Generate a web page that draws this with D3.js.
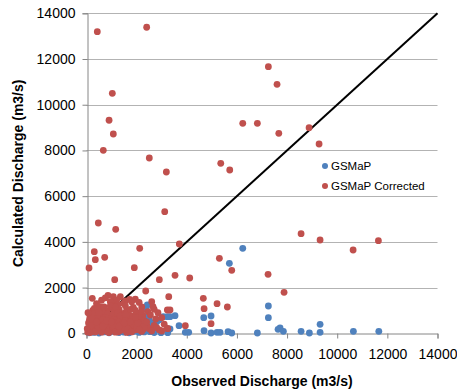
<!DOCTYPE html>
<html>
<head>
<meta charset="utf-8">
<script src="https://cdn.jsdelivr.net/npm/d3@7"></script>
<style>
  html, body { margin: 0; padding: 0; background: #fff; }
  svg { display: block; font-family: "Liberation Sans", Arial, sans-serif; }
</style>
</head>
<body>
<svg id="chart" width="457" height="392"></svg>
<script>
// Axis ticks (m3/s)
const xTicks = [0, 2000, 4000, 6000, 8000, 10000, 12000, 14000];
const yTicks = [0, 2000, 4000, 6000, 8000, 10000, 12000, 14000];

// 1:1 reference line
const identityLine = [[0, 0], [14000, 14000]];

// GSMaP: [observed, calculated]
const gsmap = [
  [100,20],[300,40],[500,10],[700,60],[900,20],[1100,80],[1300,30],[1500,50],[1700,20],
  [1900,90],[2100,40],[2300,60],[2534,70],[2700,30],[2972,26],[3240,26],[3331,190],
  [3691,333],[3942,44],[4077,44],[200,120],[600,180],[1000,150],[1400,250],[1800,300],
  [2000,450],[2200,350],[2426,1238],[2374,1094],[2334,726],[1867,656],[2665,289],
  [2800,508],[2893,582],[3064,726],[3224,726],[3531,770],[3331,726],[1600,400],
  [1200,200],[800,150],[400,100],[2500,600],[2600,450],[2150,550],[1950,500],
  [4676,683],[4968,757],[4688,114],[4968,13],[5207,44],[5327,44],[5646,70],[5793,13],
  [6815,13],[7254,1194],[7254,683],[7640,175],[7721,232],[7853,88],[8559,88],
  [8890,13],[9317,394],[9317,44],[10645,88],[11659,88],[6232,3719],[5698,3062]
];

// GSMaP Corrected: [observed, calculated]
const gsmapCorrected = [
  // scattered high values
  [431,13195],[2400,13390],[1030,10500],[900,9320],[1070,8720],[670,8006],[2505,7670],
  [3185,7057],[5355,7437],[5713,7145],[6232,9188],[6815,9188],[7254,11664],[7600,10894],
  [7670,8750],[8878,8995],[9277,8282],[8559,4358],[9317,4082],[10634,3644],[11643,4051],
  [7242,2581],[7880,1794],[3120,5320],[471,4826],[1165,4550],[3703,3907],[311,3570],
  [351,3220],[726,3325],[2122,3719],[100,2857],[1907,2870],[5300,3281],[5793,2756],
  [1125,2345],[2905,2345],[3531,2537],[4117,2419],[2362,1850],
  [4660,1531],[4690,1076],[5207,1295],[5618,1151],[4968,420],[3942,333],[3240,201],
  // upper edge of the low-flow cluster
  [231,1531],[858,1662],[1070,1601],[1350,1600],[1723,1487],[1947,1490],[2601,1382],
  [3280,1601],[1070,1312],[1468,1312],[600,1450],[1200,1450],[1550,1420],[1800,1380],
  [2100,1350],[950,1380],[400,1300],[750,1550],[1250,1250],
  // middle of the cluster
  [311,1094],[539,1164],[1867,1137],[2202,1151],[2653,1164],[3225,1019],[3331,1019],
  [140,726],[670,875],[1205,726],[1468,875],[2242,770],[2761,625],[3000,683],[800,1000],
  [1000,1100],[1300,1050],[1600,1000],[1700,800],[2000,900],[2450,950],[2100,700],
  [900,800],[400,900],[250,1000],[550,700],[1100,950],[1400,650],[1650,600],[1900,550],
  [2550,800],[2850,900],[2300,550],[120,600],[180,800],[350,750],
  [450,1050],[700,1150],[950,1200],[1150,1150],[1550,1200],[1750,1050],[1950,1000],
  [650,950],[850,850],[1050,800],[1250,900],[1350,750],[1550,800],[1850,750],
  [300,850],[500,900],[750,700],[1000,650],[1200,600],[450,650],[250,550],
  // bottom of the cluster
  [140,289],[2083,464],[2402,350],[3225,219],[50,50],[100,150],[150,300],[200,100],
  [250,400],[300,200],[350,550],[400,100],[450,300],[500,450],[550,150],[600,350],
  [650,600],[700,200],[750,450],[800,100],[850,300],[900,550],[950,250],[1000,400],
  [1050,150],[1100,600],[1150,300],[1200,450],[1250,200],[1300,500],[1350,350],
  [1400,150],[1450,450],[1500,300],[1550,550],[1600,200],[1650,400],[1700,100],
  [1750,300],[1800,450],[1850,200],[1900,350],[1950,150],[2000,250],[2150,300],
  [2250,150],[2500,200],[2700,350],[2900,150],[3100,400],[3000,100],[600,50],
  [900,30],[1250,60],[1600,40],[2200,80],[30,200],[80,450],[60,900],[220,650],
  [150,30],[350,60],[500,250],[700,400],[850,60],[1050,350],[1150,50],[1350,120],
  [1450,250],[1650,180],[1800,60],[2050,450],[2300,300],[2600,100],[2800,250],
  [200,350],[400,500],[650,300],[800,550],[1000,500],[1300,300],[1500,450],[1750,500],
  [2100,150],[2400,500],[1950,700],[2200,950],[2700,1050]
];

const seriesNames = ["GSMaP", "GSMaP Corrected"];
const seriesColors = ["#4F81BD", "#C0504D"];

const svg = d3.select("#chart");
const margin = { left: 86.5, right: 19.5, top: 13.3, bottom: 58.7 };
const W = 457, H = 392;

const x = d3.scaleLinear().domain([0, 14000]).range([margin.left, W - margin.right]);
const y = d3.scaleLinear().domain([0, 14000]).range([H - margin.bottom, margin.top]);

// horizontal gridlines
svg.append("g")
  .selectAll("line")
  .data(yTicks.filter(d => d > 0))
  .join("line")
  .attr("x1", x(0)).attr("x2", x(14000))
  .attr("y1", d => Math.round(y(d)) + 0.5).attr("y2", d => Math.round(y(d)) + 0.5)
  .attr("stroke", "#b3b3b3").attr("stroke-width", 1);

// x axis
const xAxis = svg.append("g")
  .attr("transform", `translate(0,${Math.round(y(0)) + 0.5})`)
  .call(d3.axisBottom(x).tickValues(xTicks).tickSize(5).tickPadding(11).tickFormat(d3.format("d")));
xAxis.select(".domain").attr("stroke", "#868686");
xAxis.selectAll(".tick line").attr("stroke", "#868686");
xAxis.selectAll(".tick text").attr("font-size", 14).attr("fill", "#000")
  .attr("font-family", "Liberation Sans, Arial, sans-serif");

// y axis
const yAxis = svg.append("g")
  .attr("transform", `translate(${Math.round(x(0)) + 0.5},0)`)
  .call(d3.axisLeft(y).tickValues(yTicks).tickSize(5).tickPadding(7).tickFormat(d3.format("d")));
yAxis.select(".domain").attr("stroke", "#868686");
yAxis.selectAll(".tick line").attr("stroke", "#868686");
yAxis.selectAll(".tick text").attr("font-size", 14).attr("fill", "#000")
  .attr("font-family", "Liberation Sans, Arial, sans-serif");

// 1:1 line
svg.append("path")
  .datum(identityLine)
  .attr("d", d3.line().x(d => x(d[0])).y(d => y(d[1])))
  .attr("stroke", "#000").attr("stroke-width", 2).attr("fill", "none");

// markers
const seriesData = [gsmap, gsmapCorrected];
seriesData.forEach((data, i) => {
  svg.append("g")
    .selectAll("circle")
    .data(data)
    .join("circle")
    .attr("cx", d => x(d[0]))
    .attr("cy", d => y(d[1]))
    .attr("r", 3.4)
    .attr("fill", seriesColors[i]);
});

// legend
const legend = svg.append("g");
seriesNames.forEach((name, i) => {
  const ly = 166 + i * 20;
  legend.append("circle").attr("cx", 325).attr("cy", ly).attr("r", 3).attr("fill", seriesColors[i]);
  legend.append("text").attr("x", 331).attr("y", ly).attr("dy", "0.35em")
    .attr("font-size", 11.5).attr("fill", "#000").text(name);
});

// axis titles
svg.append("text")
  .attr("x", (x(0) + x(14000)) / 2).attr("y", 386)
  .attr("text-anchor", "middle").attr("font-weight", "bold").attr("font-size", 14)
  .text("Observed Discharge (m3/s)");

svg.append("text")
  .attr("transform", `translate(23,${(y(0) + y(14000)) / 2}) rotate(-90)`)
  .attr("text-anchor", "middle").attr("font-weight", "bold").attr("font-size", 14)
  .text("Calculated Discharge (m3/s)");
</script>
</body>
</html>
